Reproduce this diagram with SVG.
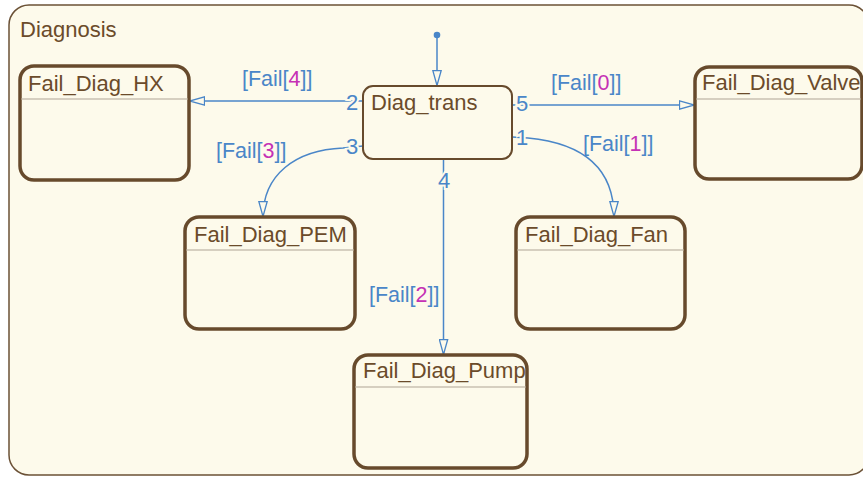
<svg xmlns="http://www.w3.org/2000/svg" width="863" height="477" viewBox="0 0 863 477">
  <style>
    .chart { fill: #fdfaeb; stroke: #6b5136; stroke-width: 1.5; }
    .state { fill: #fdfaeb; stroke: #674a2c; stroke-width: 3.5; }
    .junc { fill: #fdfaeb; stroke: #674a2c; stroke-width: 2; }
    .div { stroke: #c9c1b2; stroke-width: 1.5; }
    .name { font-family: "Liberation Sans", Arial, sans-serif; font-size: 22px; fill: #6b4b2a; }
    .title { font-family: "Liberation Sans", Arial, sans-serif; font-size: 22px; fill: #6b4b2a; }
    .tr { fill: none; stroke: #4a86c8; stroke-width: 1.5; marker-end: url(#head); }
    .lbl { font-family: "Liberation Sans", Arial, sans-serif; font-size: 21.5px; fill: #4a86c8; }
    .idx { fill: #c531b5; }
    .ord { font-family: "Liberation Sans", Arial, sans-serif; font-size: 22px; fill: #4a86c8; stroke: #fdfaeb; stroke-width: 4; paint-order: stroke; }
  </style>
  <defs>
    <marker id="head" viewBox="0 0 16 10" refX="16" refY="5" markerWidth="16" markerHeight="10" markerUnits="userSpaceOnUse" orient="auto">
      <path d="M0.5,0.8 L15.5,5 L0.5,9.2 Z" fill="#fdfaeb" stroke="#4a86c8" stroke-width="1.3"/>
    </marker>
  </defs>

  <rect width="863" height="477" fill="#ffffff"/>

  <!-- parent chart -->
  <g id="Diagnosis">
    <rect class="chart" x="9" y="5" width="860" height="470" rx="20"/>
    <text class="title" x="20" y="37">Diagnosis</text>
  </g>

  <!-- transitions -->
  <g id="connectors">
    <circle cx="437" cy="35" r="3.3" fill="#4a86c8"/>
    <path class="tr" d="M437,35 V86"/>
    <path class="tr" d="M363,101 H189"/>
    <path class="tr" d="M512,105 H695"/>
    <path class="tr" d="M512,137 L528,138 C580,143 614,165 614,217"/>
    <path class="tr" d="M363,146 L343,148 C295,150 263,175 263,217"/>
    <path class="tr" d="M443.5,159 V355"/>

    <text class="ord" x="346" y="110">2</text>
    <text class="ord" x="516" y="111">5</text>
    <text class="ord" x="346" y="154">3</text>
    <text class="ord" x="516" y="145">1</text>
    <text class="ord" x="438" y="188">4</text>

    <text class="lbl" x="242" y="86">[Fail[<tspan class="idx">4</tspan>]]</text>
    <text class="lbl" x="551" y="90">[Fail[<tspan class="idx">0</tspan>]]</text>
    <text class="lbl" x="216" y="158">[Fail[<tspan class="idx">3</tspan>]]</text>
    <text class="lbl" x="583" y="151">[Fail[<tspan class="idx">1</tspan>]]</text>
    <text class="lbl" x="369" y="302">[Fail[<tspan class="idx">2</tspan>]]</text>
  </g>

  <g id="Diag_trans">
    <rect class="junc" x="363" y="86" width="149" height="73" rx="10"/>
    <text class="name" x="371" y="110">Diag_trans</text>
  </g>

  <g id="Fail_Diag_HX">
    <rect class="state" x="20" y="66" width="169" height="114" rx="14"/>
    <line class="div" x1="21.5" y1="99" x2="187.5" y2="99"/>
    <text class="name" x="28" y="91">Fail_Diag_HX</text>
  </g>

  <g id="Fail_Diag_Valve">
    <rect class="state" x="695" y="67" width="167" height="112" rx="14"/>
    <line class="div" x1="696.5" y1="99" x2="860.5" y2="99"/>
    <text class="name" x="702" y="90">Fail_Diag_Valve</text>
  </g>

  <g id="Fail_Diag_PEM">
    <rect class="state" x="185" y="217" width="170" height="112" rx="14"/>
    <line class="div" x1="186.5" y1="250" x2="353.5" y2="250"/>
    <text class="name" x="194" y="242">Fail_Diag_PEM</text>
  </g>

  <g id="Fail_Diag_Fan">
    <rect class="state" x="516" y="217" width="169" height="112" rx="14"/>
    <line class="div" x1="517.5" y1="250" x2="683.5" y2="250"/>
    <text class="name" x="525" y="242">Fail_Diag_Fan</text>
  </g>

  <g id="Fail_Diag_Pump">
    <rect class="state" x="354" y="355" width="173" height="113" rx="14"/>
    <line class="div" x1="355.5" y1="387" x2="525.5" y2="387"/>
    <text class="name" x="363" y="378">Fail_Diag_Pump</text>
  </g>
</svg>
